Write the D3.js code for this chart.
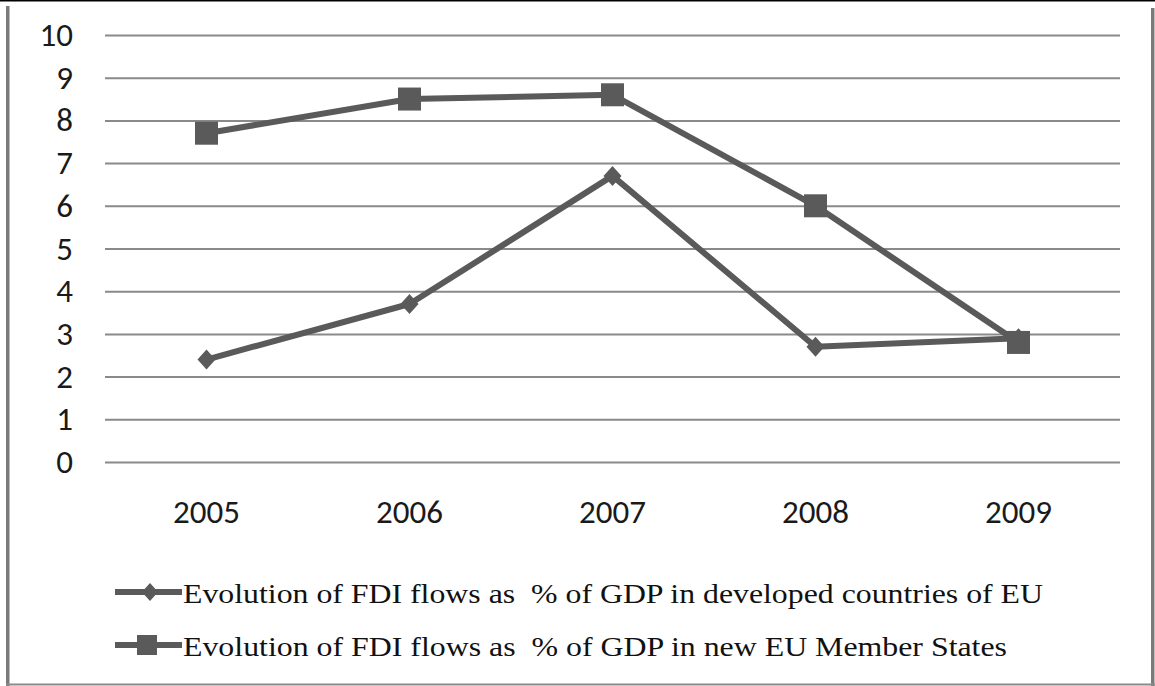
<!DOCTYPE html>
<html>
<head>
<meta charset="utf-8">
<script src="https://cdn.jsdelivr.net/npm/d3@7"></script>
<style>
  html, body { margin: 0; padding: 0; background: #ffffff; }
  svg { display: block; }
</style>
</head>
<body>
<svg id="chart" width="1155" height="686"></svg>
<script>
// Years on the category axis
const years = ["2005", "2006", "2007", "2008", "2009"];
// FDI flows as % of GDP
const developedEU = [2.4, 3.7, 6.7, 2.7, 2.9];
const newMemberStates = [7.7, 8.5, 8.6, 6.0, 2.8];
// Value axis ticks
const yTicks = [0, 1, 2, 3, 4, 5, 6, 7, 8, 9, 10];
// Legend entries
const seriesNames = [
  "Evolution of FDI flows as  % of GDP in developed countries of EU",
  "Evolution of FDI flows as  % of GDP in new EU Member States"
];

const W = 1155, H = 686;
const svg = d3.select("#chart");
const ink = "#5a5a5a";
const gridColor = "#8a8a8a";
const axisFont = "Carlito, Lato, 'Open Sans', sans-serif";
const legendFont = "'Liberation Serif', 'Times New Roman', serif";

// Frame around the figure
svg.append("rect").attr("x", 0).attr("y", 0).attr("width", W).attr("height", 1.5).attr("fill", "#000");
svg.append("rect").attr("x", 6).attr("y", 6).attr("width", 3.5).attr("height", H - 6).attr("fill", "#7a7a7a");
svg.append("rect").attr("x", 1151).attr("y", 8).attr("width", 3.5).attr("height", H - 8).attr("fill", "#7a7a7a");
svg.append("rect").attr("x", 6).attr("y", 683.5).attr("width", 1149).attr("height", 2).attr("fill", "#8a8a8a");

// Scales
const x = d3.scaleBand().domain(years).range([105, 1120]).padding(0);
const y = d3.scaleLinear().domain([0, 10]).range([462, 35]);
const cx = d => x(d) + x.bandwidth() / 2;

// Horizontal gridlines with value labels
const yAxis = d3.axisLeft(y).tickValues(yTicks).tickSize(-(1120 - 105)).tickPadding(32).tickFormat(d3.format("d"));
const gy = svg.append("g").attr("transform", "translate(105,0)").call(yAxis);
gy.select(".domain").remove();
gy.selectAll(".tick line").attr("stroke", gridColor).attr("stroke-width", 2);
gy.selectAll(".tick text")
  .attr("fill", "#1a1a1a")
  .style("font-family", axisFont)
  .style("font-size", "33px");

// Category labels
const xAxis = d3.axisBottom(x).tickSize(0).tickPadding(38);
const gx = svg.append("g").attr("transform", "translate(0,462)").call(xAxis);
gx.select(".domain").remove();
gx.selectAll(".tick text")
  .attr("fill", "#1a1a1a")
  .style("font-family", axisFont)
  .style("font-size", "33px");

const line = d3.line().x((d, i) => cx(years[i])).y(d => y(d));

// Developed countries: line with diamond markers
svg.append("path").datum(developedEU)
  .attr("d", line).attr("fill", "none")
  .attr("stroke", ink).attr("stroke-width", 6).attr("stroke-linejoin", "round");
const diamond = (s) => `M0,${-s}L${s * 0.9},0L0,${s}L${-s * 0.9},0Z`;
svg.append("g").selectAll("path").data(developedEU).join("path")
  .attr("transform", (d, i) => `translate(${cx(years[i])},${y(d)})`)
  .attr("d", diamond(10)).attr("fill", ink);

// New member states: line with square markers
svg.append("path").datum(newMemberStates)
  .attr("d", line).attr("fill", "none")
  .attr("stroke", ink).attr("stroke-width", 6).attr("stroke-linejoin", "round");
const sq = 23;
svg.append("g").selectAll("rect").data(newMemberStates).join("rect")
  .attr("x", (d, i) => cx(years[i]) - sq / 2)
  .attr("y", d => y(d) - sq / 2)
  .attr("width", sq).attr("height", sq).attr("fill", ink);

// Legend
const legendRows = [
  { name: seriesNames[0], y: 592, marker: "diamond", right: 1043 },
  { name: seriesNames[1], y: 645, marker: "square", right: 1007 }
];
const lg = svg.append("g");
legendRows.forEach(r => {
  lg.append("line").attr("x1", 115).attr("x2", 182).attr("y1", r.y).attr("y2", r.y)
    .attr("stroke", ink).attr("stroke-width", 6);
  if (r.marker === "diamond") {
    lg.append("path").attr("transform", `translate(150,${r.y})`).attr("d", diamond(9)).attr("fill", ink);
  } else {
    lg.append("rect").attr("x", 137).attr("y", r.y - 10).attr("width", 20).attr("height", 20).attr("fill", ink);
  }
  lg.append("text")
    .attr("x", 183).attr("y", r.y + 11)
    .attr("textLength", r.right - 183)
    .attr("lengthAdjust", "spacingAndGlyphs")
    .style("white-space", "pre")
    .attr("fill", "#111")
    .style("font-family", legendFont)
    .style("font-size", "28px")
    .text(r.name);
});
</script>
</body>
</html>
